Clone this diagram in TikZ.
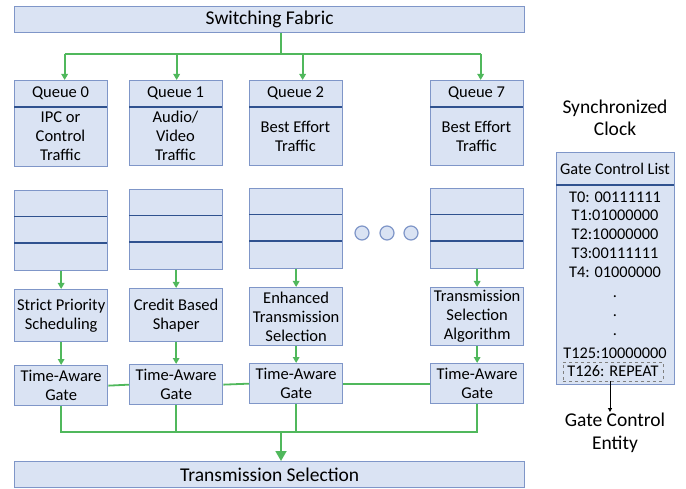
\documentclass[tikz,border=0pt]{standalone}
\usepackage{fontspec}
\setmainfont{Carlito}
\usetikzlibrary{arrows.meta}
\definecolor{boxfill}{HTML}{DAE3F3}
\definecolor{boxline}{HTML}{7F96C8}
\definecolor{divline}{HTML}{2F528F}
\definecolor{flow}{HTML}{50B85C}
\tikzset{
  box/.style={draw=boxline, fill=boxfill, line width=1.3pt, inner sep=0pt, anchor=north west},
  lbl/.style={font=\fontsize{16.5}{19}\selectfont, align=center, inner sep=0pt},
  big/.style={font=\fontsize{19.5}{22.5}\selectfont, inner sep=0pt},
  divider/.style={draw=divline, line width=1.6pt},
  flowline/.style={draw=flow, line width=1.8pt},
  flowarrow/.style={flowline, -{Triangle[length=6pt,width=6.5pt]}},
  bigarrow/.style={flowline, -{Triangle[length=10pt,width=11pt]}},
  entry/.style={font=\fontsize{16.3}{19}\selectfont, inner sep=0pt},
}
\begin{document}
\begin{tikzpicture}[x=1pt,y=-1pt]
\useasboundingbox (0,0) rectangle (686,489);

% switching fabric and transmission selection bars
\node[box, minimum width=510, minimum height=26] (sf) at (14,6) {};
\node[big] at (sf.center) {Switching Fabric};
\node[box, minimum width=510, minimum height=26] (ts) at (14,461) {};
\node[big] at (ts.center) {Transmission Selection};

% queues: header + traffic class
\foreach \n/\x/\y/\h/\txt in {0/14/80/86/{IPC or\\Control\\Traffic},
                               1/129/80/85/{Audio/\\Video\\Traffic},
                               2/249/80/85/{Best Effort\\Traffic},
                               7/430/80/85/{Best Effort\\Traffic}}{
  \node[box, minimum width=93, minimum height=\h] (q\n) at (\x,\y) {};
  \draw[divider] (\x,\y+27) -- ++(93,0);
  \node[lbl] at (\x+46.5,\y+13.5) {Queue \n};
  \node[lbl] at (\x+46.5,{\y+27+(\h-27)/2}) {\txt};
}

% queue buffers
\foreach \n/\x/\y in {0/14/190, 1/129/189, 2/249/188, 3/430/188}{
  \node[box, minimum width=93, minimum height=80] (s\n) at (\x,\y) {};
  \draw[divider] (\x,\y+26.5) -- ++(93,0);
  \draw[divider] (\x,\y+53) -- ++(93,0);
}

% ellipsis between queue 2 and queue 7
\foreach \x in {362,387,411}
  \draw[draw=boxline, fill=boxfill, line width=1.2pt] (\x,233) circle (7);

% transmission selection algorithms
\node[box, minimum width=93, minimum height=52] (a0) at (14,289) {};
\node[lbl] at (a0.center) {Strict Priority\\Scheduling};
\node[box, minimum width=93, minimum height=53] (a1) at (129,288) {};
\node[lbl] at (a1.center) {Credit Based\\Shaper};
\node[box, minimum width=93, minimum height=58] (a2) at (249,287) {};
\node[lbl] at (a2.center) {Enhanced\\Transmission\\Selection};
\node[box, minimum width=93, minimum height=58] (a3) at (430,287) {};
\node[lbl] at (a3.center) {Transmission\\Selection\\Algorithm};

% time-aware gates
\node[box, minimum width=93, minimum height=40] (g0) at (14,365) {};
\node[box, minimum width=93, minimum height=40] (g1) at (129,364) {};
\node[box, minimum width=93, minimum height=40] (g2) at (249,363) {};
\node[box, minimum width=93, minimum height=40] (g3) at (430,363) {};
\foreach \n in {0,...,3}
  \node[lbl] at (g\n.center) {Time-Aware\\Gate};

% fabric to queues (drop points sit a little right of each queue's centre)
\coordinate (split) at (281,54);
\coordinate (in0) at ([xshift=3.5]q0.north);
\coordinate (in1) at ([xshift=0.5]q1.north);
\coordinate (in2) at ([xshift=6.5]q2.north);
\coordinate (in7) at ([xshift=3.5]q7.north);
\draw[flowline] (sf.south -| split) -- (split);
\draw[flowline] (in0 |- split) -- (in7 |- split);
\foreach \n in {0,1,2,7}
  \draw[flowarrow] (in\n |- split) -- (in\n);

% buffers to algorithms to gates
\foreach \n in {0,...,3}{
  \draw[flowarrow] (s\n.south) -- (a\n.north);
  \draw[flowarrow] (a\n.south) -- (g\n.north);
}

% gates linked to each other
\draw[flowline] (g0.east) -- (g1.west);
\draw[flowline] (g1.east) -- (g2.west);
\draw[flowline] (g2.east) -- (g3.west);

% gates merge into transmission selection
\coordinate (merge) at (281,432);
\draw[flowline] (g0.south) |- (merge);
\draw[flowline] (g3.south) |- (merge);
\draw[flowline] (g1.south) -- (g1.south |- merge);
\draw[flowline] (g2.south) -- (g2.south |- merge);
\draw[bigarrow] (merge) -- (ts.north -| merge);

% synchronized clock and gate control list
\node[big, align=center, font=\fontsize{19.5}{22}\selectfont] (clk) at (615,118) {Synchronized\\Clock};
\node[box, minimum width=118, minimum height=232] (gcl) at (556,152) {};
\draw[divider] (556,185) -- (674,185);
\node[entry] (gclh) at (615,168.5) {Gate Control List};
\foreach \t [count=\i from 0] in {T0: 00111111, T1:01000000, T2:10000000, T3:00111111, T4: 01000000}
  \node[entry] at (615,{197+18.75*\i}) {\t};
\foreach \y in {298,317,336}
  \node[entry, anchor=base] at (615,\y) {.};
\node[entry] at (615,353) {T125:10000000};
\node[entry, draw=gray, dashed, line width=0.6pt, minimum width=100, minimum height=19] (t126) at (613,371.5) {T126: REPEAT};

% gate control entity
\node[big, align=center, font=\fontsize{19.5}{23}\selectfont, anchor=north] (gce) at (615,413) {Gate Control\\Entity};
\draw[line width=1pt, -{Triangle[length=4pt,width=4pt]}] (t126.south -| 610,0) -- (610,412);
\end{tikzpicture}
\end{document}
